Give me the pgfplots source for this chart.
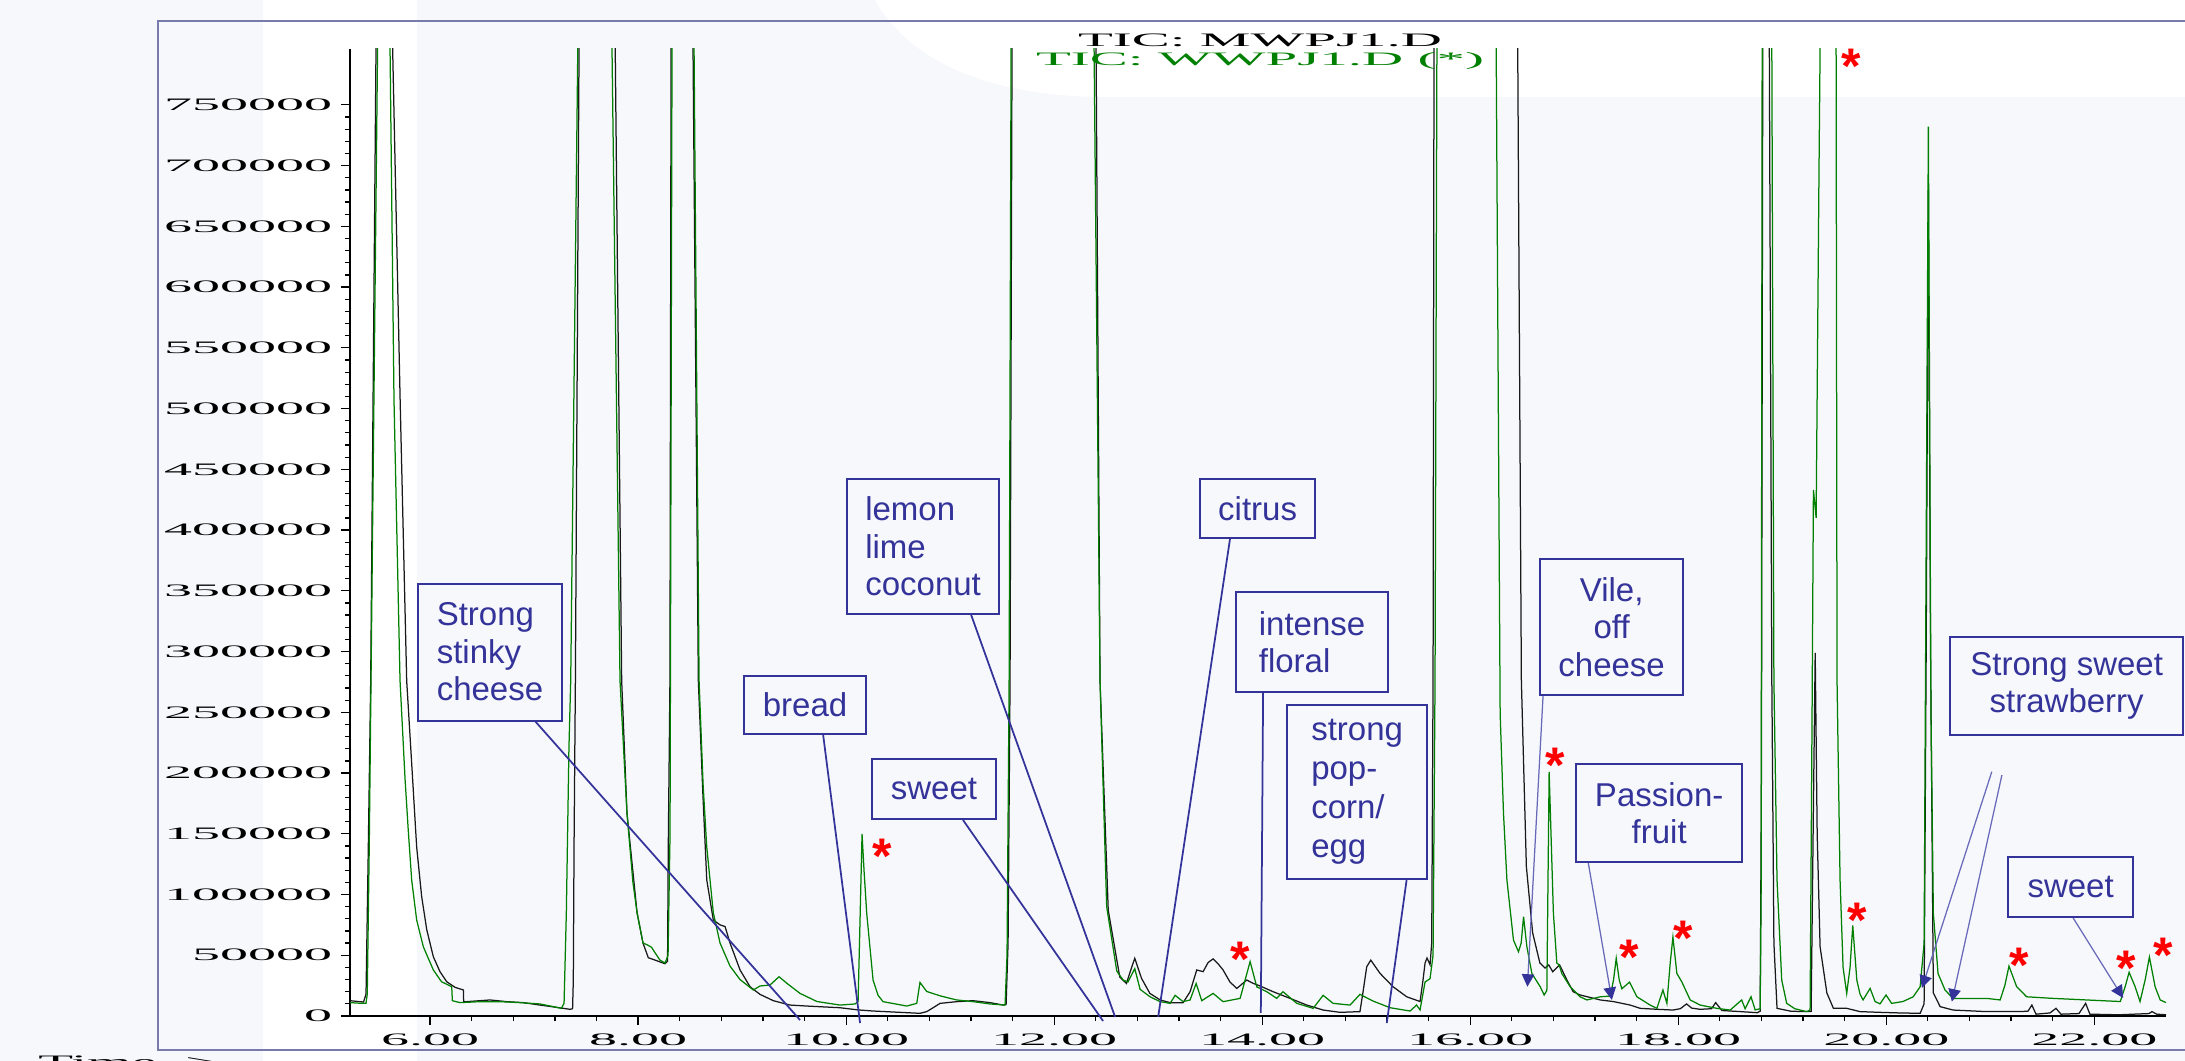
\documentclass[border=0pt]{standalone}
\usepackage{pgfplots}
\pgfplotsset{compat=1.18}
\usepackage{graphicx}
\usepackage{fontspec}
\setmainfont{Liberation Serif}
\newfontfamily\arial{Liberation Sans}
\usetikzlibrary{arrows.meta}
\definecolor{bgc}{RGB}{247,248,252}
\definecolor{annot}{RGB}{51,51,153}
\definecolor{annotl}{RGB}{105,105,185}
\definecolor{framec}{RGB}{120,122,172}
\definecolor{gcol}{RGB}{0,128,0}
\definecolor{kcol}{RGB}{25,25,25}
\begin{document}
\begin{tikzpicture}
\path[use as bounding box] (0,0) rectangle (874pt,424.4pt);
\clip (0,0) rectangle (874pt,424.4pt);
\fill[bgc] (0,0) rectangle (874pt,424.4pt);
\fill[white] (105.2pt,0) rectangle (166.8pt,424.4pt);
\fill[white] (350pt,424.4pt) .. controls (362pt,402.4pt) and (392pt,385.6pt) .. (442pt,385.6pt) -- (874pt,385.6pt) -- (874pt,424.4pt) -- cycle;
\draw[framec, line width=1pt] (63.2pt,416.0pt) rectangle (880pt,4.4pt);
\tikzset{box/.style={draw=annot, line width=0.8pt, fill=bgc, text=annot, font=\arial\fontsize{13.2}{15}\selectfont, inner sep=0pt},
  star/.style={text=red, font=\arial\bfseries\fontsize{20}{20}\selectfont, inner sep=0pt, anchor=north},
  conn/.style={annot, line width=0.7pt},
  arr/.style={annotl, line width=0.5pt, -{Triangle[length=5pt,width=5pt,color=annot]}}}
\begin{axis}[
  at={(140pt,18pt)}, anchor=south west,
  scale only axis, width=726.4pt, height=386.8pt,
  xmin=5.23, xmax=22.69, ymin=0, ymax=796000,
  axis lines=left, axis line style={-, line width=0.6pt, black},
  enlargelimits=false,
  clip mode=individual,
  xtick={6,8,10,12,14,16,18,20,22}, minor x tick num=4,
  ytick={0,50000,100000,150000,200000,250000,300000,350000,400000,450000,500000,550000,600000,650000,700000,750000},
  minor y tick num=4,
  tick align=outside, major tick length=3.6pt, minor tick length=2pt,
  tick style={black, line width=0.5pt},
  scaled ticks=false,
  xticklabel={\scalebox{3.2}[1]{\pgfmathprintnumber[fixed,fixed zerofill,precision=2,assume math mode=true]{\tick}}},
  yticklabel={\scalebox{3.2}[1]{\pgfmathprintnumber[fixed,precision=0,set thousands separator={},assume math mode=true]{\tick}}},
  ticklabel style={font=\fontsize{7}{8}\selectfont},
]
\addplot[kcol, line width=0.5pt, no markers] coordinates {
(5.23,12600)(5.30,12000)(5.36,11500)(5.384,18000)(5.406,139000)(5.429,276000)(5.48,796000)(5.526,1266000)(5.64,796000)(5.712,507000)(5.775,276000)(5.823,208000)(5.871,139000)(5.919,98300)(5.968,71000)(6.031,48800)(6.095,36500)(6.16,28200)(6.24,23600)(6.32,21400)(6.323,11800)(6.35,11800)(6.48,12600)(6.576,13200)(6.737,11800)(6.896,11000)(7.057,9000)(7.217,7100)(7.345,5500)(7.37,6000)(7.377,29600)(7.384,139000)(7.397,276000)(7.432,796000)(7.6,1500000)(7.78,796000)(7.842,276000)(7.893,167000)(7.99,85000)(8.047,60000)(8.098,48000)(8.163,46000)(8.259,43000)(8.283,45000)(8.29,139000)(8.306,276000)(8.317,796000)(8.42,1500000)(8.528,796000)(8.579,276000)(8.624,180000)(8.66,112000)(8.723,79000)(8.788,75000)(8.836,73600)(8.884,60000)(8.98,37900)(9.076,24100)(9.172,17800)(9.3,12600)(9.46,9000)(9.621,8200)(9.941,6800)(10.115,5000)(10.259,4100)(10.518,3000)(10.71,2200)(10.775,3600)(10.84,7000)(10.903,10400)(11.063,11800)(11.22,12600)(11.384,11000)(11.509,9000)(11.538,9500)(11.557,60000)(11.576,276000)(11.595,796000)(12.0,1600000)(12.403,796000)(12.441,276000)(12.52,87000)(12.631,32000)(12.695,26800)(12.737,38000)(12.775,47500)(12.84,31000)(12.92,18600)(13.02,13200)(13.114,11000)(13.24,11000)(13.307,20000)(13.371,37900)(13.432,36500)(13.48,44000)(13.528,47000)(13.576,43000)(13.624,37900)(13.69,28000)(13.756,22700)(13.852,29600)(13.91,27000)(13.98,24700)(14.105,20000)(14.268,14500)(14.429,9000)(14.586,4900)(14.749,3000)(14.94,3600)(14.97,20000)(15.005,40500)(15.044,46000)(15.133,35100)(15.258,24100)(15.39,15800)(15.518,11900)(15.547,30000)(15.566,43600)(15.585,47700)(15.614,42200)(15.63,60000)(15.643,276000)(15.652,796000)(16.05,2000000)(16.457,796000)(16.492,276000)(16.54,123000)(16.6,68600)(16.67,43600)(16.72,39500)(16.755,42000)(16.794,36400)(16.86,42000)(16.93,29600)(16.99,20000)(17.057,17300)(17.25,13200)(17.375,11900)(17.538,9000)(17.634,6300)(17.8,5500)(17.95,4900)(18.02,6000)(18.08,9900)(18.13,6500)(18.21,5500)(18.32,6000)(18.36,11000)(18.42,4500)(18.6,3600)(18.76,2700)(18.788,4000)(18.8,200000)(18.813,796000)(18.845,1500000)(18.876,796000)(18.9,276000)(18.92,60000)(18.95,6300)(19.08,4000)(19.2,3600)(19.278,3800)(19.297,150000)(19.317,299000)(19.336,150000)(19.364,57000)(19.429,19000)(19.492,6300)(19.62,6300)(19.748,3600)(19.94,3000)(20.134,2500)(20.326,2200)(20.364,10000)(20.384,300000)(20.405,680000)(20.426,300000)(20.453,19000)(20.518,7700)(20.642,4900)(20.966,3600)(21.286,3600)(21.363,4000)(21.4,9000)(21.44,1500)(21.574,2500)(21.632,6300)(21.68,1500)(21.853,2000)(21.917,10400)(21.958,1500)(22.237,1000)(22.526,2000)(22.555,3600)(22.6,1500)(22.69,1000)
};
\addplot[gcol, line width=0.5pt, no markers] coordinates {
(5.23,11000)(5.326,10500)(5.384,10500)(5.396,18000)(5.415,139000)(5.432,276000)(5.495,796000)(5.557,1300000)(5.615,796000)(5.653,507000)(5.711,276000)(5.76,194000)(5.79,153000)(5.823,112000)(5.871,79000)(5.935,57000)(6.031,37900)(6.11,28200)(6.208,24100)(6.214,12600)(6.288,11000)(6.48,11800)(6.672,11800)(6.865,11000)(7.057,9900)(7.185,7700)(7.262,6300)(7.288,10400)(7.31,85000)(7.335,221000)(7.352,276000)(7.42,796000)(7.6,1500000)(7.749,796000)(7.826,276000)(7.893,167000)(7.95,110000)(7.99,85000)(8.047,60000)(8.083,58800)(8.13,56500)(8.163,52000)(8.21,46000)(8.259,43600)(8.288,50000)(8.307,150000)(8.326,796000)(8.43,1500000)(8.538,796000)(8.586,276000)(8.625,190000)(8.66,139000)(8.723,85000)(8.788,60000)(8.884,41000)(8.98,30000)(9.108,21400)(9.172,24700)(9.268,25500)(9.355,32300)(9.432,26800)(9.557,18600)(9.72,11900)(9.941,9000)(10.086,9900)(10.115,12000)(10.134,80000)(10.153,149800)(10.172,120000)(10.198,84400)(10.259,29600)(10.307,17000)(10.355,11800)(10.583,8200)(10.679,10400)(10.71,27600)(10.775,20200)(10.903,16600)(11.063,13200)(11.22,11800)(11.384,9900)(11.528,9000)(11.547,50000)(11.567,276000)(11.586,796000)(12.0,1600000)(12.384,796000)(12.441,276000)(12.505,90000)(12.602,37000)(12.663,29600)(12.71,28000)(12.775,39000)(12.826,22000)(12.922,15800)(13.019,11800)(13.115,10400)(13.163,17000)(13.24,11800)(13.307,13200)(13.365,26800)(13.419,12600)(13.528,18600)(13.624,11800)(13.788,14500)(13.884,44800)(13.948,24000)(14.044,20000)(14.14,14500)(14.2,20000)(14.333,10400)(14.49,6300)(14.586,17000)(14.682,10400)(14.845,9000)(14.94,17800)(15.066,12300)(15.23,6800)(15.422,4100)(15.484,9000)(15.518,5000)(15.566,28000)(15.614,30700)(15.643,50000)(15.662,276000)(15.68,796000)(15.96,2000000)(16.25,796000)(16.288,249000)(16.32,167000)(16.353,112000)(16.416,62500)(16.464,52900)(16.49,60000)(16.513,81800)(16.545,57000)(16.593,35000)(16.673,24100)(16.711,17300)(16.737,21000)(16.759,201000)(16.8,84400)(16.833,43600)(16.855,42000)(16.881,35000)(16.961,24100)(17.057,15800)(17.122,13200)(17.25,15800)(17.346,16400)(17.378,29600)(17.404,47500)(17.433,29600)(17.458,22400)(17.532,27900)(17.603,15800)(17.73,9000)(17.795,6300)(17.853,21400)(17.891,10400)(17.923,43600)(17.949,65000)(17.987,35000)(18.035,28000)(18.115,13200)(18.211,9000)(18.37,6300)(18.5,4900)(18.61,13200)(18.643,6000)(18.7,15800)(18.74,5000)(18.788,6000)(18.797,100000)(18.807,796000)(18.85,1500000)(18.9,796000)(18.92,276000)(18.95,112000)(18.995,29600)(19.043,10400)(19.12,6000)(19.235,3600)(19.268,5000)(19.287,250000)(19.3,433000)(19.326,410000)(19.354,700000)(19.364,796000)(19.44,1600000)(19.518,796000)(19.527,276000)(19.556,112000)(19.585,40000)(19.62,18600)(19.652,40000)(19.678,74600)(19.717,29600)(19.748,18000)(19.777,13200)(19.845,22700)(19.893,11900)(19.94,10000)(19.998,17300)(20.052,10400)(20.16,11900)(20.259,15800)(20.326,24100)(20.364,60000)(20.405,732000)(20.43,250000)(20.453,84400)(20.498,35000)(20.565,21400)(20.642,14500)(20.966,14500)(21.095,13200)(21.14,25000)(21.18,41100)(21.254,24100)(21.35,15800)(21.603,14500)(21.927,13200)(22.25,11900)(22.3,25000)(22.335,36000)(22.393,24100)(22.44,11900)(22.49,30000)(22.53,48500)(22.585,24100)(22.634,13200)(22.69,11000)
};
% titles
\node[anchor=base, font=\fontsize{7.6}{8}\selectfont, text=black] at (axis cs:13.98,798300) {\scalebox{3.0}[1]{TIC: MWPJ1.D}};
\node[anchor=base, font=\fontsize{7.6}{8}\selectfont, text=gcol] at (axis cs:13.98,782700) {\scalebox{3.0}[1]{TIC: WWPJ1.D (*)}};
\node[anchor=north west, inner sep=0pt, font=\fontsize{7.6}{8}\selectfont] at (axis cs:2.23,-32100) {\scalebox{3.0}[1]{Time-->}};
% connectors
\draw[conn] (axis cs:7.0,243600) -- (axis cs:9.557,-3300);
\draw[conn] (axis cs:9.778,232100) -- (axis cs:10.134,-5800);
\draw[conn] (axis cs:11.124,161300) -- (axis cs:12.47,-4100);
\draw[conn] (axis cs:11.201,330400) -- (axis cs:12.586,-800);
\draw[conn] (axis cs:13.692,393400) -- (axis cs:13.0,-800);
\draw[conn] (axis cs:14.009,266700) -- (axis cs:13.987,2500);
\draw[conn] (axis cs:15.39,112800) -- (axis cs:15.198,-5800);
\draw[arr] (axis cs:16.701,264200) -- (axis cs:16.55,24100);
\draw[arr] (axis cs:17.134,126700) -- (axis cs:17.362,13200);
\draw[arr] (axis cs:21.015,201100) -- (axis cs:20.343,23000);
\draw[arr] (axis cs:21.112,198300) -- (axis cs:20.631,11800);
\draw[arr] (axis cs:21.797,80700) -- (axis cs:22.278,14800);
% boxes
\node[box, minimum width=57.6pt, minimum height=54.8pt, align=left] at (axis cs:6.576,299600) {Strong\\stinky\\cheese};
\node[box, minimum width=48.8pt, minimum height=23.2pt] at (axis cs:9.605,256000) {bread};
\node[box, minimum width=49.6pt, minimum height=24pt] at (axis cs:10.845,186800) {sweet};
\node[box, minimum width=60.8pt, minimum height=54pt, align=left] at (axis cs:10.74,386400) {lemon\\lime\\coconut};
\node[box, minimum width=46pt, minimum height=23.6pt] at (axis cs:13.956,417700) {citrus};
\node[box, minimum width=60.8pt, minimum height=40pt, align=left] at (axis cs:14.48,307800) {intense\\floral};
\node[box, minimum width=56pt, minimum height=69.6pt, align=left, font=\arial\fontsize{13.2}{15.6}\selectfont] at (axis cs:14.913,184400) {strong\\pop-\\corn/\\egg};
\node[box, minimum width=57.2pt, minimum height=54.4pt, align=center] at (axis cs:17.36,320100) {Vile,\\off\\cheese};
\node[box, minimum width=66.4pt, minimum height=39.2pt, align=center] at (axis cs:17.817,167100) {Passion-\\fruit};
\node[box, minimum width=93.2pt, minimum height=39.2pt, align=center] at (axis cs:21.735,271600) {Strong sweet\\strawberry};
\node[box, minimum width=50pt, minimum height=24pt] at (axis cs:21.773,106200) {sweet};
% asterisks
\node[star] at (axis cs:10.345,146100) {*};
\node[star] at (axis cs:13.788,61300) {*};
\node[star] at (axis cs:16.817,221000) {*};
\node[star] at (axis cs:17.528,63000) {*};
\node[star] at (axis cs:18.047,78600) {*};
\node[star] at (axis cs:19.663,796300) {*};
\node[star] at (axis cs:19.72,93400) {*};
\node[star] at (axis cs:21.278,56400) {*};
\node[star] at (axis cs:22.307,53900) {*};
\node[star] at (axis cs:22.663,64600) {*};
\end{axis}
\end{tikzpicture}
\end{document}
